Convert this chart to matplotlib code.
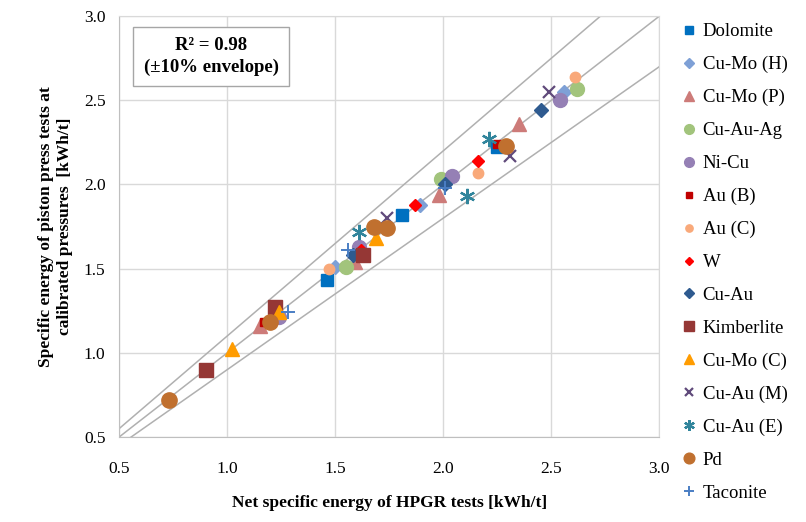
import matplotlib
matplotlib.use("Agg")
import matplotlib.pyplot as plt
import numpy as np

plt.rcParams['font.family'] = ['Liberation Serif', 'DejaVu Serif']

series_names = ["Dolomite", "Cu-Mo (H)", "Cu-Mo (P)", "Cu-Au-Ag", "Ni-Cu", "Au (B)",
                "Au (C)", "W", "Cu-Au", "Kimberlite", "Cu-Mo (C)", "Cu-Au (M)",
                "Cu-Au (E)", "Pd", "Taconite"]

dolomite_x = [1.46, 1.81, 2.25]
dolomite_y = [1.43, 1.82, 2.22]
cumo_h_x = [1.50, 1.89, 2.56]
cumo_h_y = [1.51, 1.88, 2.55]
cumo_p_x = [1.15, 1.59, 1.98, 2.35]
cumo_p_y = [1.16, 1.54, 1.94, 2.36]
cuauag_x = [1.55, 1.99, 2.62]
cuauag_y = [1.51, 2.03, 2.57]
nicu_x = [1.24, 1.61, 2.04, 2.54]
nicu_y = [1.21, 1.63, 2.05, 2.50]
au_b_x = [1.17, 2.25]
au_b_y = [1.18, 2.24]
au_c_x = [1.47, 2.16, 2.61]
au_c_y = [1.50, 2.07, 2.64]
w_x = [1.62, 1.87, 2.16]
w_y = [1.61, 1.88, 2.14]
cuau_x = [1.58, 2.01, 2.45]
cuau_y = [1.58, 2.00, 2.44]
kimb_x = [0.90, 1.22, 1.63]
kimb_y = [0.90, 1.27, 1.58]
cumo_c_x = [1.02, 1.24, 1.69]
cumo_c_y = [1.02, 1.24, 1.68]
cuau_m_x = [1.74, 2.31, 2.49]
cuau_m_y = [1.80, 2.17, 2.55]
cuau_e_x = [1.61, 2.11, 2.21]
cuau_e_y = [1.72, 1.93, 2.27]
pd_x = [0.73, 1.20, 1.68, 1.74, 2.29]
pd_y = [0.72, 1.18, 1.75, 1.74, 2.23]
tac_x = [1.28, 1.56, 2.01]
tac_y = [1.24, 1.61, 1.98]

envelope_factors = [1.1, 1.0, 0.9]
ticks = [0.5, 1.0, 1.5, 2.0, 2.5, 3.0]

data = [
    (dolomite_x, dolomite_y, dict(marker='s', ms=8.5, color='#0070C0')),
    (cumo_h_x, cumo_h_y, dict(marker='D', ms=7, color='#7EA0D6')),
    (cumo_p_x, cumo_p_y, dict(marker='^', ms=10, color='#CD7B79')),
    (cuauag_x, cuauag_y, dict(marker='o', ms=10, color='#A2C47C')),
    (nicu_x, nicu_y, dict(marker='o', ms=10, color='#9580B5')),
    (au_b_x, au_b_y, dict(marker='s', ms=6, color='#C00000')),
    (au_c_x, au_c_y, dict(marker='o', ms=7.5, color='#F9A97A')),
    (w_x, w_y, dict(marker='D', ms=6, color='#FF0000')),
    (cuau_x, cuau_y, dict(marker='D', ms=7.5, color='#2E5A8F')),
    (kimb_x, kimb_y, dict(marker='s', ms=10, color='#953735')),
    (cumo_c_x, cumo_c_y, dict(marker='^', ms=10, color='#FF9C00')),
    (cuau_m_x, cuau_m_y, dict(marker='x', ms=9, mew=1.6, color='#604A7B')),
    (cuau_e_x, cuau_e_y, dict(marker=(6, 2, 0), ms=11, mew=1.6, color='#31859C')),
    (pd_x, pd_y, dict(marker='o', ms=11, color='#C0702F')),
    (tac_x, tac_y, dict(marker='+', ms=10, mew=1.4, color='#4A7EC4')),
]

fig = plt.figure(figsize=(8.06, 5.22), dpi=100)
ax = fig.add_axes([0.148, 0.163, 0.670, 0.806])

ax.set_xlim(0.5, 3.0)
ax.set_ylim(0.5, 3.0)
ax.set_xticks(ticks)
ax.set_yticks(ticks)
ax.set_xticklabels([f"{t:.1f}" for t in ticks])
ax.set_yticklabels([f"{t:.1f}" for t in ticks])
ax.grid(True, color='#D9D9D9', linewidth=1.0)
ax.set_axisbelow(True)
ax.tick_params(length=0, labelsize=12.5)
ax.tick_params(axis='x', pad=17)
ax.tick_params(axis='y', pad=10)
for s in ax.spines.values():
    s.set_color('#D9D9D9')
ax.spines['left'].set_color('#BFBFBF')
ax.spines['bottom'].set_color('#BFBFBF')

xx = np.array([0.5, 3.0])
for f in envelope_factors:
    ax.plot(xx, f * xx, color='#B0B0B0', linewidth=1.1, zorder=1)

handles = []
for (x, y, st), name in zip(data, series_names):
    h, = ax.plot(x, y, linestyle='none', label=name, zorder=3, **st)
    handles.append(h)

ax.text(0.926, 2.76, "R² = 0.98\n(±10% envelope)", ha='center', va='center',
        fontsize=13.5, fontweight='bold', linespacing=1.35,
        bbox=dict(boxstyle='square,pad=0.55', facecolor='white', edgecolor='#A6A6A6', linewidth=1.0),
        zorder=5)

ax.set_xlabel("Net specific energy of HPGR tests [kWh/t]", fontsize=12.5,
              fontweight='bold', labelpad=13)
ax.set_ylabel("Specific energy of piston press tests at\ncalibrated pressures  [kWh/t]",
              fontsize=12.5, fontweight='bold', labelpad=8)

fig.legend(handles=handles, loc='upper left', bbox_to_anchor=(0.838, 0.970),
           frameon=False, fontsize=13.5, markerscale=0.7, labelspacing=0.84,
           handlelength=0.7, handletextpad=0.35, borderaxespad=0)

fig.savefig("out.png", dpi=100)
